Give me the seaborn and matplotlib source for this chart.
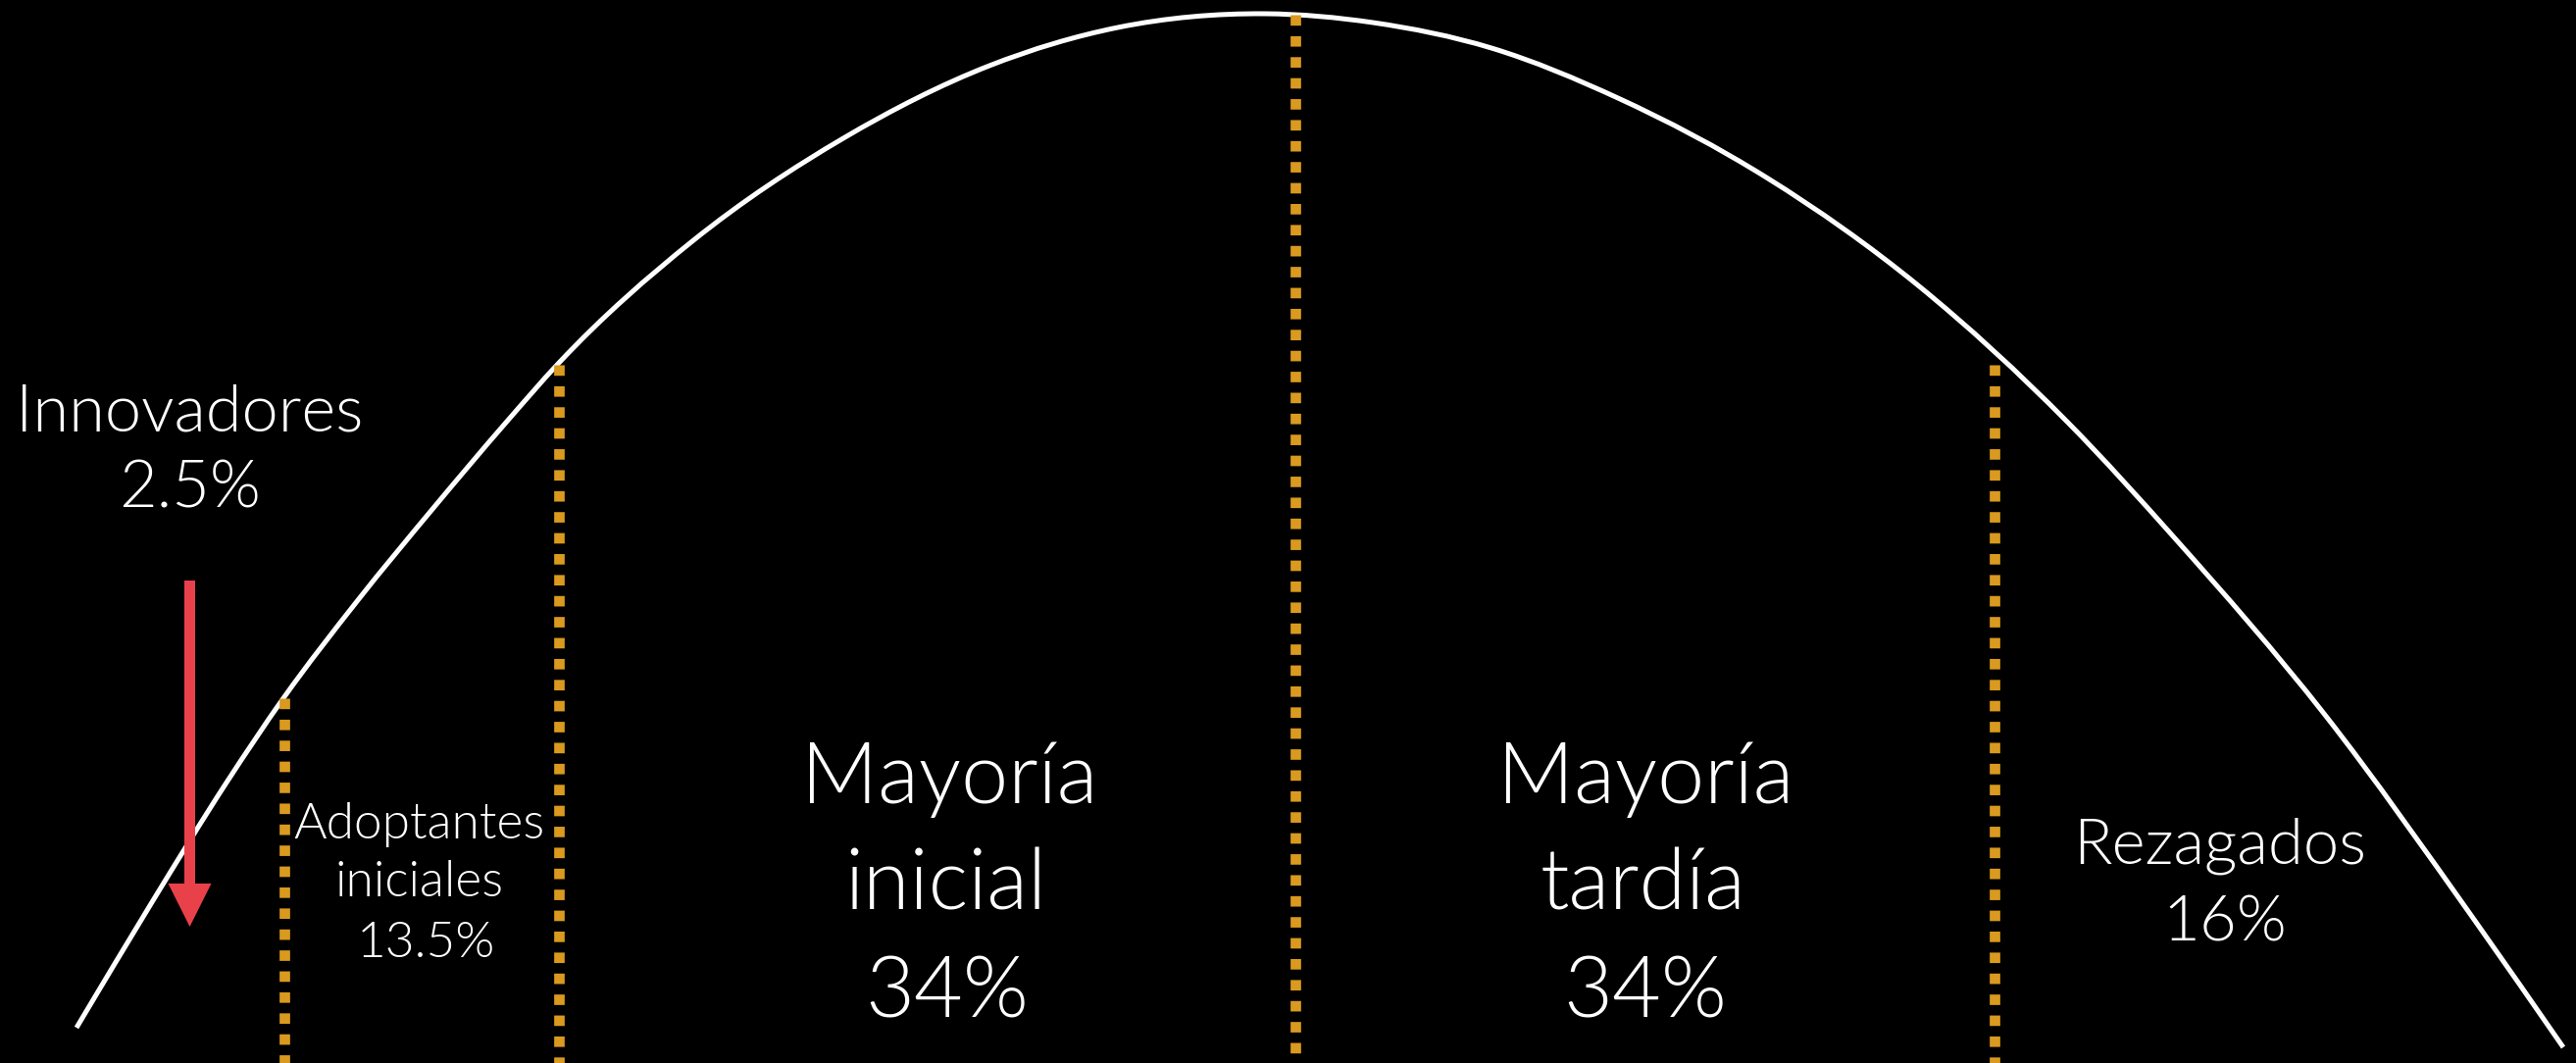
import os
import matplotlib
matplotlib.use("Agg")
import matplotlib.pyplot as plt
from matplotlib import font_manager as fm
from matplotlib.path import Path
from matplotlib.patches import PathPatch
import seaborn as sns
import pandas as pd

# ---- data (pixel-like coordinates, y grows downward) ----
curve_x = [78, 155, 231, 289, 365, 442, 515, 570, 706, 860, 1009, 1140, 1290,
           1400, 1521, 1650, 1803, 1956, 2109, 2218, 2371, 2524, 2614]
curve_y = [1048, 920, 798, 712, 612, 518, 432, 370, 246, 141, 67, 28, 14,
           23, 49, 100, 182, 291, 431, 549, 729, 939, 1068]

boundary_id = ["b1", "b1", "b2", "b2", "b3", "b3", "b4", "b4"]
boundary_x = [290, 290, 570, 570, 1321, 1321, 2034, 2034]
boundary_y = [712, 1084, 372, 1084, 15, 1076, 372, 1084]

label_text = ["Innovadores", "2.5%",
              "Adoptantes", "iniciales", "13.5%",
              "Mayoría", "inicial", "34%",
              "Mayoría", "tardía", "34%",
              "Rezagados", "16%"]
label_x = [193, 194, 427, 428, 434, 968, 964, 966, 1678, 1676, 1678, 2264, 2269]
label_y = [440, 518, 855, 914, 976, 819, 928, 1038, 819, 928, 1038, 880, 960]
label_size = [48, 48, 37, 37, 37, 62, 62, 62, 62, 62, 62, 47, 47]

arrow_x = 193.5
arrow_start = 592
arrow_end = 945

# ---- font: prefer a light humanist sans ----
def pick_font():
    prefs = ["lato-light.ttf", "lato-regular.ttf", "opensans-light.ttf", "opensans-regular.ttf"]
    files = fm.findSystemFonts()
    lower = {os.path.basename(f).lower(): f for f in files}
    for p in prefs:
        if p in lower:
            return lower[p]
    return None

font_file = pick_font()

# ---- figure ----
sns.set_theme(style="white")
plt.rcParams['font.family'] = ['Lato', 'DejaVu Sans']

W, H = 2627, 1084
fig = plt.figure(figsize=(W / 100, H / 100), dpi=100, facecolor="black")
ax = fig.add_axes([0, 0, 1, 1])
ax.set_facecolor("black")

# dotted boundaries between adopter categories
bdf = pd.DataFrame({"id": boundary_id, "x": boundary_x, "y": boundary_y})
sns.lineplot(data=bdf, x="x", y="y", units="id", estimator=None, sort=True,
             color="#DA9A1F", linewidth=7.7, ax=ax, zorder=3)
for ln in ax.lines:
    ln.set_linestyle((0, (1, 1)))
    ln.set_dash_capstyle("butt")

# smooth curve through the read points (cubic Hermite segments drawn as Bezier path)
n = len(curve_x)
h = [curve_x[i + 1] - curve_x[i] for i in range(n - 1)]
d = [(curve_y[i + 1] - curve_y[i]) / h[i] for i in range(n - 1)]
m = [d[0]]
for i in range(1, n - 1):
    m.append((d[i - 1] * h[i] + d[i] * h[i - 1]) / (h[i - 1] + h[i]))
m.append(d[-1])
verts = [(curve_x[0], curve_y[0])]
codes = [Path.MOVETO]
for i in range(n - 1):
    c1 = (curve_x[i] + h[i] / 3.0, curve_y[i] + m[i] * h[i] / 3.0)
    c2 = (curve_x[i + 1] - h[i] / 3.0, curve_y[i + 1] - m[i + 1] * h[i] / 3.0)
    verts += [c1, c2, (curve_x[i + 1], curve_y[i + 1])]
    codes += [Path.CURVE4] * 3
ax.add_patch(PathPatch(Path(verts, codes), facecolor="none", edgecolor="white",
                       linewidth=3.6, zorder=2, capstyle="butt"))

ax.arrow(arrow_x, arrow_start, 0, arrow_end - arrow_start, width=11, head_width=44,
         head_length=44, length_includes_head=True, color="#E8414A", lw=0, zorder=4)

for t, x, y, s in zip(label_text, label_x, label_y, label_size):
    if font_file:
        fp = fm.FontProperties(fname=font_file, size=s)
        ax.text(x, y, t, color="white", fontproperties=fp, ha="center", va="baseline", zorder=5)
    else:
        ax.text(x, y, t, color="white", fontsize=s, ha="center", va="baseline", zorder=5)

ax.set_xlim(0, W)
ax.set_ylim(H, 0)
ax.axis("off")

fig.savefig("out.png", dpi=100, facecolor="black")
